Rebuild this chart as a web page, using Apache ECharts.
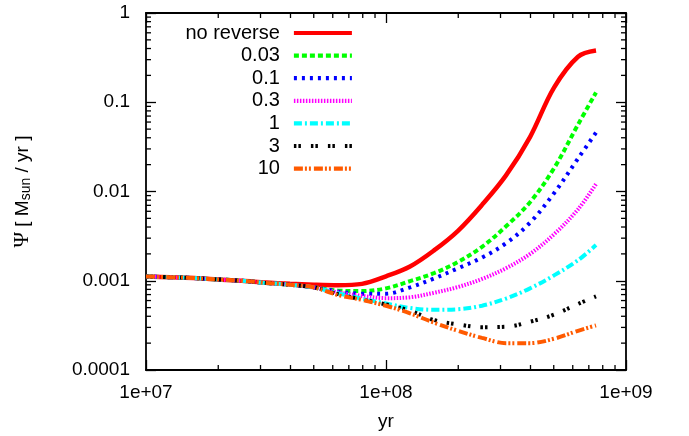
<!DOCTYPE html>
<html><head><meta charset="utf-8">
<script src="https://cdn.jsdelivr.net/npm/echarts@6/dist/echarts.min.js"></script>
<style>html,body{margin:0;padding:0;background:#fff}#c{width:689px;height:436px}</style>
</head><body><div id="c"></div>
<script>
// x values (yr)
const years = [1e7, 1.259e7, 1.585e7, 1.995e7, 2.512e7, 3.162e7, 3.981e7, 5.012e7, 6.310e7, 7.943e7,
  1e8, 1.259e8, 1.585e8, 1.995e8, 2.512e8, 3.162e8, 3.981e8, 5.012e8, 6.310e8, 7.5e8];
const seriesNames = ['no reverse', '0.03', '0.1', '0.3', '1', '3', '10'];
const psiNoReverse = [0.001114, 0.001096, 0.001072, 0.001035, 0.001000, 0.000955, 0.000923, 0.000902, 0.000891, 0.000923,
  0.001122, 0.001445, 0.002188, 0.003631, 0.007079, 0.01514, 0.04074, 0.1459, 0.3236, 0.3802];
const psi003 = [0.001114, 0.001096, 0.001072, 0.001035, 0.001000, 0.000944, 0.000902, 0.000841, 0.000776, 0.000767,
  0.000822, 0.000989, 0.001216, 0.001622, 0.002399, 0.004074, 0.007586, 0.01820, 0.05623, 0.1288];
const psi01 = [0.001114, 0.001096, 0.001072, 0.001035, 0.001000, 0.000944, 0.000902, 0.000841, 0.000759, 0.000716,
  0.000716, 0.000841, 0.001059, 0.001380, 0.001820, 0.002630, 0.004467, 0.009550, 0.02344, 0.04571];
const psi03 = [0.001114, 0.001096, 0.001072, 0.001035, 0.001000, 0.000944, 0.000902, 0.000841, 0.000741, 0.000676,
  0.000638, 0.000653, 0.000733, 0.000851, 0.001047, 0.001380, 0.001995, 0.003311, 0.006310, 0.01213];
const psi1 = [0.001114, 0.001096, 0.001072, 0.001035, 0.001000, 0.000944, 0.000902, 0.000841, 0.000724, 0.000631,
  0.000556, 0.000495, 0.000473, 0.000479, 0.000525, 0.000631, 0.000822, 0.001148, 0.001698, 0.002512];
const psi3 = [0.001114, 0.001096, 0.001072, 0.001035, 0.001000, 0.000944, 0.000902, 0.000841, 0.000708, 0.000617,
  0.000543, 0.000462, 0.000363, 0.000324, 0.000302, 0.000305, 0.000347, 0.000417, 0.000550, 0.000668];
const psi10 = [0.001114, 0.001096, 0.001072, 0.001035, 0.001000, 0.000944, 0.000902, 0.000841, 0.000692, 0.000610,
  0.000525, 0.000432, 0.000339, 0.000275, 0.000229, 0.000200, 0.000200, 0.000224, 0.000275, 0.000316];

const xTickLabels = {'7': '1e+07', '8': '1e+08', '9': '1e+09'};
const yTickLabels = {'0': '1', '-1': '0.1', '-2': '0.01', '-3': '0.001', '-4': '0.0001'};
const xDecades = [1e7, 1e8];
const yDecades = [1e-4, 1e-3, 1e-2, 1e-1];
const minorMultipliers = [2, 3, 4, 5, 6, 7, 8, 9];

const X_MIN = 1e7, X_MAX = 1e9, Y_MIN = 1e-4, Y_MAX = 1;
const FONT = 'Liberation Sans';

const allSeries = [psiNoReverse, psi003, psi01, psi03, psi1, psi3, psi10];
const colors = ['#ff0000', '#00ff00', '#0000ff', '#ff00ff', '#00ffff', '#000000', '#ff5a00'];
const dashes = ['solid', [5, 3], [3, 5], [1.5, 1.5], [8, 3, 2, 3], [2.5, 2, 2.5, 10], [9, 2, 2, 2, 2, 3]];
const widths = [4.5, 4, 4, 4, 4, 4, 4];

const xMinor = [], yMinor = [];
xDecades.forEach(d => minorMultipliers.forEach(m => xMinor.push([d * m, Y_MIN])));
yDecades.forEach(d => minorMultipliers.forEach(m => yMinor.push([X_MIN, d * m])));

const lineSeries = allSeries.map((arr, i) => ({
  name: seriesNames[i],
  type: 'line',
  data: years.map((x, j) => [x, arr[j]]),
  showSymbol: false,
  symbol: 'none',
  smooth: 0.35,
  color: colors[i],
  lineStyle: {color: colors[i], width: widths[i], type: dashes[i], cap: 'butt'},
  silent: true,
  z: 2
}));

const tickStyle = {stroke: '#000', lineWidth: 1.3};
const minorX = {
  type: 'custom', silent: true, z: 3, data: xMinor, encode: {x: 0, y: 1},
  renderItem: (p, api) => {
    const v = api.value(0);
    const b = api.coord([v, Y_MIN]), t = api.coord([v, Y_MAX]);
    return {type: 'group', children: [
      {type: 'line', shape: {x1: b[0], y1: b[1], x2: b[0], y2: b[1] - 5}, style: tickStyle},
      {type: 'line', shape: {x1: t[0], y1: t[1], x2: t[0], y2: t[1] + 5}, style: tickStyle}
    ]};
  }
};
const minorY = {
  type: 'custom', silent: true, z: 3, data: yMinor, encode: {x: 0, y: 1},
  renderItem: (p, api) => {
    const v = api.value(1);
    const l = api.coord([X_MIN, v]), r = api.coord([X_MAX, v]);
    return {type: 'group', children: [
      {type: 'line', shape: {x1: l[0], y1: l[1], x2: l[0] + 5, y2: l[1]}, style: tickStyle},
      {type: 'line', shape: {x1: r[0], y1: r[1], x2: r[0] - 5, y2: r[1]}, style: tickStyle}
    ]};
  }
};

const axisCommon = {
  axisLine: {show: true, lineStyle: {color: '#000', width: 1.8}},
  axisTick: {show: true, inside: true, length: 10, lineStyle: {color: '#000', width: 1.3}},
  splitLine: {show: false}
};

const chart = echarts.init(document.getElementById('c'), null, {renderer: 'canvas'});
chart.setOption({
  animation: false,
  backgroundColor: '#fff',
  textStyle: {fontFamily: FONT},
  grid: {left: 146, right: 63, top: 13, bottom: 64},
  legend: {
    data: seriesNames,
    orient: 'vertical',
    align: 'right',
    right: 335,
    top: 23,
    padding: 0,
    itemWidth: 58,
    itemHeight: 14,
    itemGap: 2.6,
    selectedMode: false,
    itemStyle: {opacity: 0, borderWidth: 0},
    lineStyle: {width: 4.2},
    textStyle: {fontSize: 20, color: '#000', fontFamily: FONT, padding: [0, 9, 0, 0]}
  },
  xAxis: [
    Object.assign({}, axisCommon, {
      type: 'log', logBase: 10, min: X_MIN, max: X_MAX, position: 'bottom',
      name: 'yr', nameLocation: 'middle', nameGap: 42,
      nameTextStyle: {fontSize: 19, color: '#000', fontFamily: FONT},
      axisLabel: {fontSize: 19, color: '#000', margin: 13, fontFamily: FONT,
        formatter: v => xTickLabels[String(Math.round(Math.log10(v)))] || ''}
    }),
    Object.assign({}, axisCommon, {
      type: 'log', logBase: 10, min: X_MIN, max: X_MAX, position: 'top',
      axisLabel: {show: false}
    })
  ],
  yAxis: [
    Object.assign({}, axisCommon, {
      type: 'log', logBase: 10, min: Y_MIN, max: Y_MAX, position: 'left',
      name: '{p|Ψ}{a| [ M}{s|sun}{a| / yr ]}', nameLocation: 'middle', nameGap: 113,
      nameTextStyle: {
        color: '#000', fontFamily: FONT,
        rich: {
          p: {fontSize: 21, color: '#000', fontFamily: 'Liberation Serif'},
          a: {fontSize: 19, color: '#000', fontFamily: FONT},
          s: {fontSize: 14, color: '#000', fontFamily: FONT, verticalAlign: 'bottom', padding: [7, 0, 0, 0]}
        }
      },
      axisLabel: {fontSize: 19, color: '#000', margin: 16, fontFamily: FONT,
        formatter: v => yTickLabels[String(Math.round(Math.log10(v)))] || ''}
    }),
    Object.assign({}, axisCommon, {
      type: 'log', logBase: 10, min: Y_MIN, max: Y_MAX, position: 'right',
      axisLabel: {show: false}
    })
  ],
  series: lineSeries.concat([minorX, minorY])
});
</script>
</body></html>
